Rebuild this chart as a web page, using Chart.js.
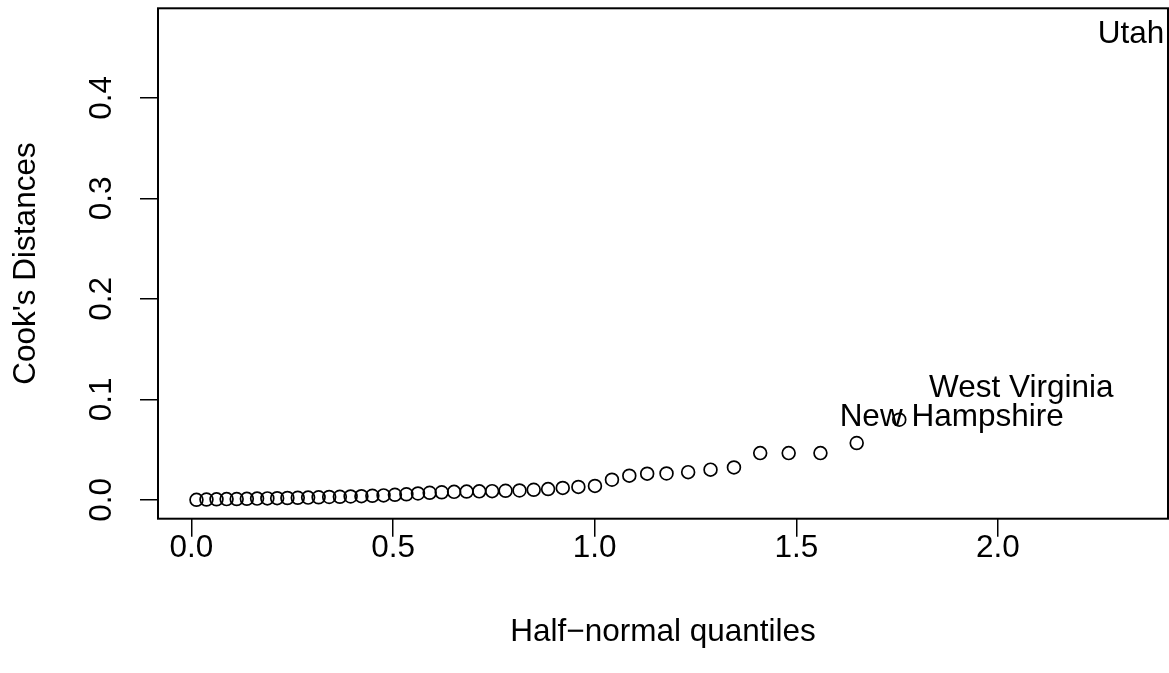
<!DOCTYPE html>
<html><head><meta charset="utf-8">
<script src="https://cdn.jsdelivr.net/npm/chart.js@4.4.1/dist/chart.umd.min.js"></script>
<style>html,body{margin:0;padding:0;background:#fff;}#wrap{width:1169px;height:673px;}</style>
</head><body><div id="wrap"><canvas id="c" width="1169" height="673"></canvas></div>
<script>
// Half-normal quantiles (50 observations, sorted)
const quantiles = [
  0.0124, 0.0372, 0.0621, 0.0871, 0.1121, 0.1373, 0.1627, 0.1882, 0.2125, 0.2379,
  0.2636, 0.2893, 0.3153, 0.3415, 0.3680, 0.3947, 0.4215, 0.4486, 0.4764, 0.5045,
  0.5330, 0.5617, 0.5907, 0.6206, 0.6512, 0.6823, 0.7137, 0.7456, 0.7789, 0.8135,
  0.8487, 0.8844, 0.9207, 0.9595, 1.0006, 1.0428, 1.0858, 1.1301, 1.1781, 1.2317,
  1.2872, 1.3453, 1.4104, 1.4810, 1.5598, 1.6497, 1.7553, 1.8852, 2.0578, 2.3300
];
// Cook's distances for the unlabelled points (first 47)
const cookDist = [
  0.0000, 0.0003, 0.0005, 0.0007, 0.0008, 0.0010, 0.0012, 0.0014, 0.0016, 0.0018,
  0.0020, 0.0022, 0.0025, 0.0028, 0.0030, 0.0033, 0.0036, 0.0040, 0.0044, 0.0050,
  0.0055, 0.0063, 0.0070, 0.0075, 0.0079, 0.0082, 0.0084, 0.0086, 0.0090, 0.0093,
  0.0100, 0.0107, 0.0118, 0.0128, 0.0138, 0.0200, 0.0240, 0.0260, 0.0262, 0.0275,
  0.0300, 0.0322, 0.0465, 0.0465, 0.0465, 0.0565, 0.0797
];
// Labelled (largest) observations
const labelNames = ["New Hampshire", "West Virginia", "Utah"];
const labelCook = [0.0824, 0.1114, 0.4635];
const xTicks = [0.0, 0.5, 1.0, 1.5, 2.0];
const yTicks = [0.0, 0.1, 0.2, 0.3, 0.4];

const FONT_FAMILY = '"Liberation Sans", Arimo, Helvetica, Arial, sans-serif';
const FS = 31.5;

const boxAndLabels = {
  id: 'boxAndLabels',
  afterDatasetsDraw(chart) {
    const {ctx, chartArea: a, scales: {x, y}} = chart;
    ctx.save();
    ctx.beginPath();
    ctx.rect(a.left, a.top - 2, a.right - a.left, a.bottom - a.top + 2);
    ctx.clip();
    ctx.fillStyle = '#000';
    ctx.font = FS + 'px ' + FONT_FAMILY;
    ctx.textAlign = 'center';
    ctx.textBaseline = 'middle';
    const off = quantiles.length - labelNames.length;
    labelNames.forEach((n, k) => {
      ctx.fillText(n, x.getPixelForValue(quantiles[off + k]), y.getPixelForValue(labelCook[k]));
    });
    ctx.restore();
    ctx.save();
    ctx.strokeStyle = '#000';
    ctx.lineWidth = 2;
    ctx.strokeRect(a.left, a.top, a.right - a.left, a.bottom - a.top);
    ctx.restore();
  }
};

const font = {family: FONT_FAMILY, size: FS, lineHeight: 1.2};
const noPad = s => { s.paddingTop = 0; s.paddingBottom = 0; s.paddingLeft = 0; s.paddingRight = 0; };

new Chart(document.getElementById('c'), {
  type: 'scatter',
  data: {
    datasets: [{
      data: cookDist.map((v, i) => ({x: quantiles[i], y: v})),
      pointRadius: 6.4,
      pointHoverRadius: 6.4,
      pointBorderWidth: 1.7,
      pointBorderColor: '#000',
      pointBackgroundColor: 'rgba(0,0,0,0)',
      showLine: false,
      clip: false
    }]
  },
  options: {
    responsive: false,
    animation: false,
    devicePixelRatio: 1,
    layout: {autoPadding: false, padding: {top: 8.3, right: 1, left: 0, bottom: 0}},
    plugins: {legend: {display: false}, tooltip: {enabled: false}},
    scales: {
      x: {
        type: 'linear',
        min: -0.083,
        max: 2.4217,
        afterBuildTicks: s => { s.ticks = xTicks.map(v => ({value: v})); },
        afterFit: s => { s.height = 154.3; noPad(s); },
        ticks: {font, color: '#000', padding: -7.6, autoSkip: false, minRotation: 0, maxRotation: 0,
                callback: v => Number(v).toFixed(1)},
        grid: {drawOnChartArea: false, drawTicks: true, tickLength: 18, color: '#000', lineWidth: 1.5},
        border: {display: false},
        title: {display: true, text: 'Half\u2212normal quantiles', font, color: '#000',
                padding: {top: 0, bottom: 22}}
      },
      y: {
        type: 'linear',
        min: -0.0188,
        max: 0.4891,
        afterBuildTicks: s => { s.ticks = yTicks.map(v => ({value: v})); },
        afterFit: s => { s.width = 158; noPad(s); },
        ticks: {font, color: '#000', padding: 15.4, autoSkip: false, minRotation: 90, maxRotation: 90,
                crossAlign: 'center', callback: v => Number(v).toFixed(1)},
        grid: {drawOnChartArea: false, drawTicks: true, tickLength: 18, color: '#000', lineWidth: 1.5},
        border: {display: false},
        title: {display: true, text: "Cook's Distances", font, color: '#000',
                padding: {top: 7, bottom: 0}}
      }
    }
  },
  plugins: [boxAndLabels]
});
</script>
</body></html>
